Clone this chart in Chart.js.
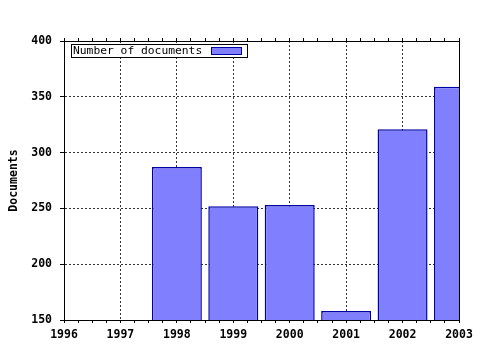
<!DOCTYPE html>
<html>
<head>
<meta charset="utf-8">
<script src="https://cdn.jsdelivr.net/npm/chart.js@4.4.0/dist/chart.umd.min.js"></script>
<style>
  html, body { margin: 0; padding: 0; background: #fff; }
  #wrap { width: 480px; height: 350px; position: relative; }
</style>
</head>
<body>
<div id="wrap"><canvas id="docsChart"></canvas></div>
<script>
// Values
const years = [1996, 1997, 1998, 1999, 2000, 2001, 2002, 2003];
const documents = [null, null, 287, 252, 253, 158, 321, 359];
const yTicks = [150, 200, 250, 300, 350, 400];
const seriesLabel = 'Number of documents';
const yTitle = 'Documents';

const isWhole = v => Math.abs(v - Math.round(v)) < 1e-6;

Chart.defaults.font.family = '"DejaVu Sans Mono", monospace';
Chart.defaults.color = '#000';

// right frame line + legend box drawn inside the plot
const framePlugin = {
    id: 'frame',
    afterDatasetsDraw(chart) {
        const { ctx, chartArea: a } = chart;
        const ds = chart.data.datasets[0];
        ctx.save();
        ctx.strokeStyle = '#000';
        ctx.lineWidth = 1;
        ctx.beginPath();
        ctx.moveTo(Math.round(a.right) + 0.5, a.top);
        ctx.lineTo(Math.round(a.right) + 0.5, a.bottom + 1);
        ctx.stroke();

        // legend
        ctx.font = '11.3px "DejaVu Sans Mono"';
        const tw = ctx.measureText(ds.label).width;
        const bx = Math.round(a.left) + 7;
        const by = Math.round(a.top) + 3;
        const sw = 30, sh = 7;
        const bw = Math.round(2 + tw + 9 + sw + 6);
        const bh = 13;
        ctx.fillStyle = '#fff';
        ctx.fillRect(bx, by, bw, bh);
        ctx.strokeRect(bx + 0.5, by + 0.5, bw, bh);
        ctx.fillStyle = '#000';
        ctx.textBaseline = 'middle';
        ctx.fillText(ds.label, bx + 2, by + bh / 2 + 1);
        const sx = Math.round(bx + 2 + tw + 9);
        ctx.fillStyle = ds.backgroundColor;
        ctx.fillRect(sx, by + 3, sw, sh);
        ctx.lineWidth = 1;
        ctx.strokeStyle = ds.borderColor;
        ctx.strokeRect(sx + 0.5, by + 3.5, sw, sh);
        ctx.restore();
    }
};

const xMin = years[0];
const xMax = years[years.length - 1];

new Chart(document.getElementById('docsChart'), {
    type: 'bar',
    data: {
        datasets: [{
            label: seriesLabel,
            data: years.map((yr, i) => ({ x: yr, y: documents[i] })),
            xAxisID: 'xBar',
            backgroundColor: '#8080ff',
            borderColor: '#0000a0',
            borderWidth: 1.5,
            borderSkipped: false,
            categoryPercentage: 1,
            barPercentage: 0.886,
            clip: 0
        }]
    },
    options: {
        responsive: true,
        maintainAspectRatio: false,
        animation: false,
        layout: { padding: { left: 0, right: 21, top: 0, bottom: 0 } },
        plugins: {
            legend: { display: false },
            tooltip: { enabled: false }
        },
        scales: {
            // hidden axis the bars sit on (one step per year)
            xBar: {
                type: 'linear',
                display: false,
                offset: false,
                grid: { offset: false },
                min: xMin,
                max: xMax,
                ticks: { stepSize: 1 }
            },
            x: {
                type: 'linear',
                position: 'bottom',
                offset: false,
                min: xMin,
                max: xMax,
                ticks: {
                    stepSize: 0.25,
                    autoSkip: false,
                    maxRotation: 0,
                    minRotation: 0,
                    padding: 5,
                    color: '#000',
                    font: { size: 11.5, weight: 'bold' },
                    callback: v => isWhole(v) ? String(Math.round(v)) : ''
                },
                grid: {
                    offset: false,
                    color: c => (c.tick && isWhole(c.tick.value)) ? '#333' : 'rgba(0,0,0,0)',
                    tickColor: '#000',
                    tickLength: 3
                },
                border: { color: '#000', dash: [2, 2] },
                afterFit: s => { s.height = 30; }
            },
            xTop: {
                type: 'linear',
                position: 'top',
                offset: false,
                min: xMin,
                max: xMax,
                ticks: { stepSize: 0.25, display: false, autoSkip: false },
                grid: { offset: false, drawOnChartArea: false, tickColor: '#000', tickLength: 3 },
                border: { color: '#000' },
                afterFit: s => { s.height = 41; }
            },
            y: {
                min: yTicks[0],
                max: yTicks[yTicks.length - 1],
                afterBuildTicks: s => { s.ticks = yTicks.map(v => ({ value: v })); },
                ticks: {
                    padding: 8,
                    color: '#000',
                    font: { size: 11.5, weight: 'bold' }
                },
                grid: { color: '#333', tickColor: '#000', tickLength: 4 },
                border: { color: '#000', dash: [2, 2] },
                title: {
                    display: true,
                    text: yTitle,
                    color: '#000',
                    font: { size: 11.5, weight: 'bold' },
                    padding: { top: 7, bottom: 0 }
                },
                afterFit: s => { s.width = 64; }
            }
        }
    },
    plugins: [framePlugin]
});
</script>
</body>
</html>
